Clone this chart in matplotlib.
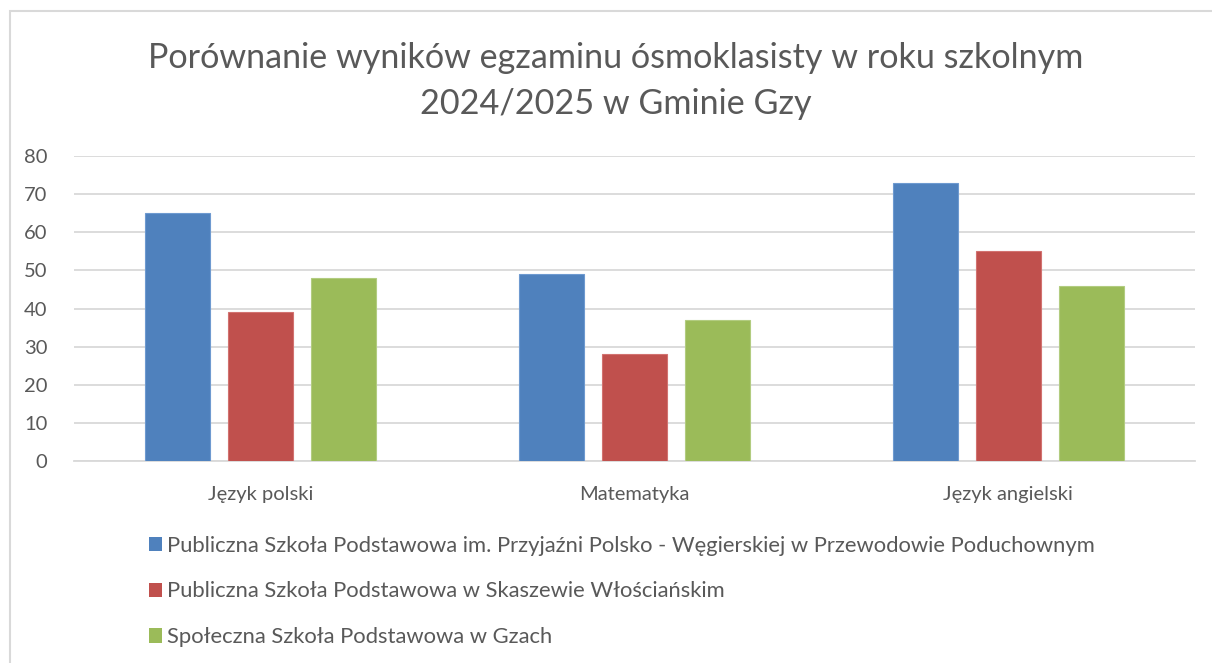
import matplotlib
matplotlib.use("Agg")
import matplotlib.pyplot as plt
from matplotlib.patches import Rectangle, Patch
import numpy as np

categories = ["Język polski", "Matematyka", "Język angielski"]
series_names = [
    "Publiczna Szkoła Podstawowa im. Przyjaźni Polsko - Węgierskiej w Przewodowie Poduchownym",
    "Publiczna Szkoła Podstawowa w Skaszewie Włościańskim",
    "Społeczna Szkoła Podstawowa w Gzach",
]
school1 = [65, 49, 73]
school2 = [39, 28, 55]
school3 = [48, 37, 46]
yticks = [0, 10, 20, 30, 40, 50, 60, 70, 80]
title = "Porównanie wyników egzaminu ósmoklasisty w roku szkolnym\n2024/2025 w Gminie Gzy"

colors = ["#4F81BD", "#C0504D", "#9BBB59"]
edge = ["#6E9AD0", "#D27270", "#B2CC80"]
txt = "#595959"
plt.rcParams['font.family'] = ['Lato', 'DejaVu Sans']

W, H = 1212, 663
fig = plt.figure(figsize=(W / 100, H / 100), dpi=100)
fig.patch.set_facecolor("white")
fig.patches.append(Rectangle((10 / W, -0.1), 1.2, (H - 11) / H + 0.1, transform=fig.transFigure,
                             fill=False, edgecolor="#D9D9D9", linewidth=1.5))

ax = fig.add_axes([74 / W, (H - 461) / H, (1195 - 74) / W, (461 - 156) / H])
x = np.arange(len(categories))
bw = 65 / 373.7
step = 83 / 373.7
handles = []
for i, vals in enumerate([school1, school2, school3]):
    b = ax.bar(x + (i - 1) * step, vals, width=bw, color=colors[i], edgecolor=edge[i],
               linewidth=0.8, zorder=3, label=series_names[i])
    handles.append(b)

ax.set_xlim(-0.5, 2.5)
ax.set_ylim(0, 80)
ax.set_yticks(yticks)
ax.set_yticklabels([str(v) for v in yticks])
ax.set_xticks(x)
ax.set_xticklabels(categories)
ax.grid(axis="y", color="#D9D9D9", linewidth=1.3, zorder=0)
for s in ["top", "right", "left"]:
    ax.spines[s].set_visible(False)
ax.spines["bottom"].set_color("#D9D9D9")
ax.spines["bottom"].set_linewidth(1.3)
ax.tick_params(axis="both", length=0, labelcolor=txt)
ax.tick_params(axis="y", pad=19, labelsize=14.5)
ax.tick_params(axis="x", pad=18, labelsize=14.5)

fig.text(616 / W, 1 - 81 / H, title, ha="center", va="center", fontsize=24.6, color=txt,
         linespacing=1.5)

leg = fig.legend(handles=[Patch(facecolor=c) for c in colors], labels=series_names,
                 loc="upper left", bbox_to_anchor=(140 / W, 1 - 527 / H), frameon=False,
                 fontsize=15.8, labelcolor=txt, handlelength=0.62, handleheight=0.62,
                 handletextpad=0.22, labelspacing=1.17, borderaxespad=0)

fig.savefig("out.png", dpi=100, facecolor="white")
